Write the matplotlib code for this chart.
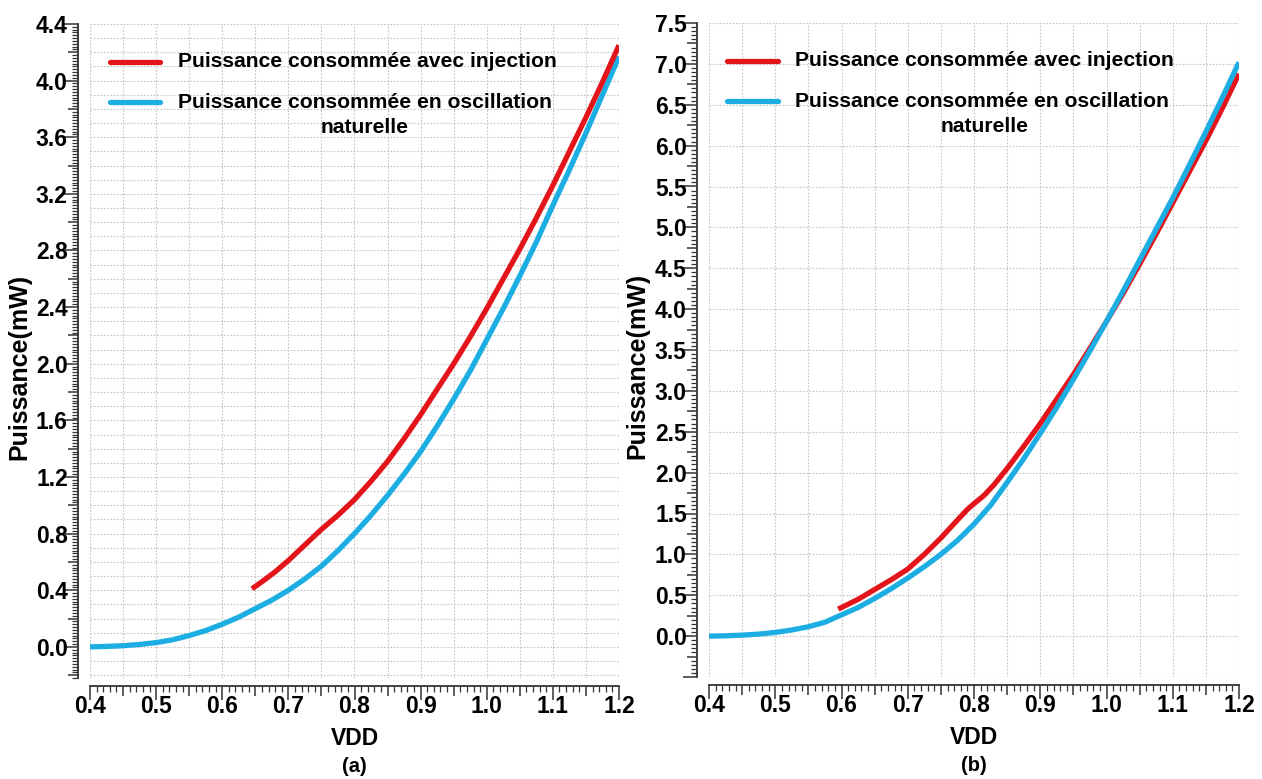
import numpy as np
import matplotlib
matplotlib.use("Agg")
import matplotlib.pyplot as plt
from matplotlib.ticker import MultipleLocator, FuncFormatter

plt.rcParams['font.family'] = ['Liberation Sans', 'DejaVu Sans']

# ---- Panel (a) ----
vdd_nat_a = [0.400, 0.425, 0.450, 0.475, 0.500, 0.525, 0.550, 0.575, 0.600,
             0.625, 0.650, 0.675, 0.700, 0.725, 0.750, 0.775, 0.800, 0.825,
             0.850, 0.875, 0.900, 0.925, 0.950, 0.975, 1.000, 1.025, 1.050,
             1.075, 1.100, 1.125, 1.150, 1.175, 1.200]
p_nat_a = [0.000, 0.003, 0.008, 0.017, 0.030, 0.050, 0.080, 0.115, 0.160,
           0.210, 0.270, 0.330, 0.400, 0.480, 0.570, 0.680, 0.800, 0.930,
           1.070, 1.220, 1.380, 1.560, 1.750, 1.950, 2.170, 2.390, 2.620,
           2.860, 3.120, 3.370, 3.630, 3.900, 4.170]
vdd_inj_a = [0.645, 0.660, 0.680, 0.700, 0.725, 0.750, 0.775, 0.800, 0.825,
             0.850, 0.875, 0.900, 0.925, 0.950, 0.975, 1.000, 1.025, 1.050,
             1.075, 1.100, 1.125, 1.150, 1.175, 1.200]
p_inj_a = [0.410, 0.460, 0.530, 0.610, 0.720, 0.830, 0.930, 1.040, 1.170,
           1.310, 1.470, 1.640, 1.820, 2.000, 2.190, 2.390, 2.600, 2.810,
           3.030, 3.260, 3.500, 3.740, 3.990, 4.250]

# ---- Panel (b) ----
vdd_nat_b = [0.400, 0.425, 0.450, 0.475, 0.500, 0.525, 0.550, 0.575, 0.600,
             0.625, 0.650, 0.675, 0.700, 0.725, 0.750, 0.775, 0.800, 0.825,
             0.850, 0.875, 0.900, 0.925, 0.950, 0.975, 1.000, 1.025, 1.050,
             1.075, 1.100, 1.125, 1.150, 1.175, 1.200]
p_nat_b = [0.000, 0.004, 0.012, 0.025, 0.045, 0.075, 0.115, 0.170, 0.260,
           0.350, 0.460, 0.580, 0.710, 0.850, 1.000, 1.170, 1.370, 1.600,
           1.880, 2.170, 2.480, 2.800, 3.140, 3.490, 3.850, 4.220, 4.600,
           4.980, 5.360, 5.760, 6.170, 6.590, 7.020]
vdd_inj_b = [0.595, 0.610, 0.625, 0.650, 0.675, 0.700, 0.725, 0.750, 0.775,
             0.790, 0.800, 0.815, 0.830, 0.850, 0.875, 0.900, 0.925, 0.950,
             0.975, 1.000, 1.025, 1.050, 1.075, 1.100, 1.125, 1.150, 1.175,
             1.200]
p_inj_b = [0.330, 0.390, 0.450, 0.570, 0.690, 0.820, 1.000, 1.200, 1.420,
           1.550, 1.620, 1.720, 1.850, 2.050, 2.320, 2.600, 2.900, 3.200,
           3.520, 3.850, 4.190, 4.550, 4.920, 5.300, 5.680, 6.060, 6.460,
           6.880]

label_inj = "Puissance consommée avec injection"
label_nat = "Puissance consommée en oscillation\nnaturelle"
panel_tags = ["(a)", "(b)"]

RED = "#e3151a"
BLUE = "#1cade3"
TICK = "#333333"

W, H = 1262, 779
fig = plt.figure(figsize=(W / 100, H / 100), dpi=100)


def frac(x0, y0, x1, y1):
    return [x0 / W, 1 - y1 / H, (x1 - x0) / W, (y1 - y0) / H]


ax_a = fig.add_axes(frac(90, 24, 619, 678))
ax_b = fig.add_axes(frac(709, 23, 1239, 677))


def is_mult(v, step):
    return abs(round(v / step) * step - v) < 1e-6


def style(ax, ylim, ystep, ylabel_step, ymid_step, hgrid, ylab_x):
    ax.set_xlim(0.4, 1.2)
    ax.set_ylim(*ylim)
    for s in ("top", "right"):
        ax.spines[s].set_visible(False)
    ax.spines["left"].set_position(("outward", 9))
    ax.spines["bottom"].set_position(("outward", 5.5))
    for s in ("left", "bottom"):
        ax.spines[s].set_linewidth(1.3)
        ax.spines[s].set_color(TICK)

    # ruler-style axes: every fine step is a tick, only round values labelled
    ax.xaxis.set_major_locator(MultipleLocator(0.01))
    ax.xaxis.set_major_formatter(FuncFormatter(
        lambda v, p: f"{v:.1f}" if is_mult(v, 0.1) else ""))
    ax.yaxis.set_major_locator(MultipleLocator(ystep))
    ax.yaxis.set_major_formatter(FuncFormatter(
        lambda v, p: f"{v:.1f}" if (v > -1e-6 and is_mult(v, ylabel_step)) else ""))

    ax.tick_params(axis="both", which="major", direction="out", length=4,
                   width=1.0, color=TICK, labelsize=16.5, pad=3)
    for lab in ax.get_xticklabels() + ax.get_yticklabels():
        lab.set_fontweight("bold")

    # dotted background grid
    for xv in np.arange(0.4, 1.2001, 0.05):
        ax.axvline(xv, color="#c4c4c4", lw=0.8, ls=(0, (1.5, 1.5)), zorder=0)
    y0 = np.ceil(ylim[0] / hgrid - 1e-9) * hgrid
    for yv in np.arange(y0, ylim[1] + 1e-6, hgrid):
        ax.axhline(yv, color="#c4c4c4", lw=0.8, ls=(0, (1.5, 1.5)), zorder=0)

    ax.set_xlabel("VDD", fontsize=16.5, fontweight="bold", labelpad=6)
    ax.set_ylabel("Puissance(mW)", fontsize=18, fontweight="bold")
    ax.yaxis.set_label_coords(ylab_x, 0.476)
    return ylabel_step, ymid_step


def tick_lengths(ax, ylabel_step, ymid_step):
    for tick, v in zip(ax.xaxis.get_major_ticks(), ax.xaxis.get_majorticklocs()):
        n = 10 if is_mult(v, 0.1) else (7 if is_mult(v, 0.05) else 4.5)
        tick.tick1line.set_markersize(n)
        tick.tick1line.set_markeredgewidth(1.1 if n > 5 else 0.9)
    for tick, v in zip(ax.yaxis.get_major_ticks(), ax.yaxis.get_majorticklocs()):
        n = 10 if is_mult(v, ylabel_step) else (7 if is_mult(v, ymid_step) else 4.5)
        tick.tick1line.set_markersize(n)
        tick.tick1line.set_markeredgewidth(1.1 if n > 5 else 0.9)


def legend(ax, y_inj, y_nat, x_h0, x_h1, x_txt, x_center):
    t = ax.transAxes
    ax.plot([x_h0, x_h1], [y_inj, y_inj], color=RED, lw=3.8,
            solid_capstyle="round", transform=t, clip_on=False)
    ax.plot([x_h0, x_h1], [y_nat, y_nat], color=BLUE, lw=3.8,
            solid_capstyle="round", transform=t, clip_on=False)
    ax.text(x_txt, y_inj, label_inj, transform=t, ha="left", va="center",
            fontsize=15.2, fontweight="bold")
    first, second = label_nat.split("\n")
    ax.text(x_txt, y_nat, first, transform=t, ha="left", va="center",
            fontsize=15.2, fontweight="bold")
    ax.text(x_center, y_nat - 0.038, second, transform=t, ha="center",
            va="center", fontsize=15.2, fontweight="bold")


cfg_a = style(ax_a, (-0.22, 4.4), 0.02, 0.4, 0.2, 0.1, -0.1115)
cfg_b = style(ax_b, (-0.5, 7.5), 0.05, 0.5, 0.25, 0.5, -0.113)

ax_a.plot(vdd_nat_a, p_nat_a, color=BLUE, lw=3.8, solid_capstyle="butt", zorder=3)
ax_a.plot(vdd_inj_a, p_inj_a, color=RED, lw=3.8, solid_capstyle="butt", zorder=4)
ax_b.plot(vdd_inj_b, p_inj_b, color=RED, lw=3.8, solid_capstyle="butt", zorder=3)
ax_b.plot(vdd_nat_b, p_nat_b, color=BLUE, lw=3.8, solid_capstyle="butt", zorder=4)

legend(ax_a, 0.942, 0.880, 0.038, 0.132, 0.166, 0.52)
legend(ax_b, 0.942, 0.880, 0.034, 0.130, 0.162, 0.52)

for ax, tag in zip((ax_a, ax_b), panel_tags):
    ax.text(0.5, -0.135, tag, transform=ax.transAxes, ha="center", va="center",
            fontsize=14.5, fontweight="bold")

fig.canvas.draw()
tick_lengths(ax_a, *cfg_a)
tick_lengths(ax_b, *cfg_b)

fig.savefig("out.png", dpi=100)
